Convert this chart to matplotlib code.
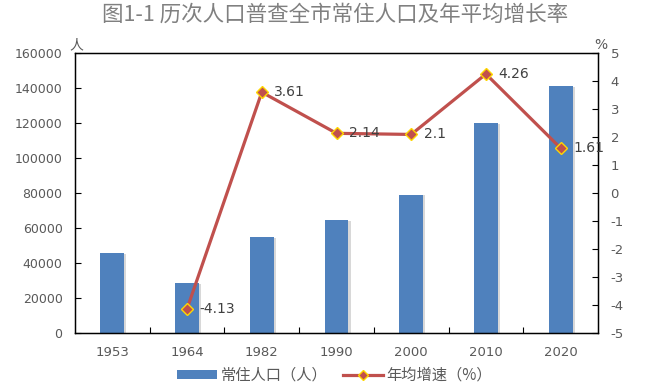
import matplotlib
matplotlib.use("Agg")
import matplotlib.pyplot as plt
import matplotlib.patheffects as pe
from matplotlib.lines import Line2D
from matplotlib.patches import Patch
import numpy as np

plt.rcParams['font.family'] = ['DejaVu Sans', 'Noto Sans CJK SC']
plt.rcParams['axes.unicode_minus'] = False

years = ['1953', '1964', '1982', '1990', '2000', '2010', '2020']
population = [45900, 28700, 54700, 64600, 79200, 120200, 141300]
growth = [np.nan, -4.13, 3.61, 2.14, 2.1, 4.26, 1.61]
growth_labels = ['', '-4.13', '3.61', '2.14', '2.1', '4.26', '1.61']

title = '图1-1 历次人口普查全市常住人口及年平均增长率'
bar_name = '常住人口（人）'
line_name = '年均增速（%）'

bar_color = '#4F81BD'
line_color = '#C0504D'
text_color = '#595959'
cjk = ['Noto Sans CJK SC', 'DejaVu Sans']

fig = plt.figure(figsize=(6.5, 3.9), dpi=100)
ax = fig.add_axes([0.1154, 0.146, 0.8046, 0.7173])
x = np.arange(len(years))

ax.bar(x, population, width=0.32, color=bar_color, zorder=2,
       path_effects=[pe.SimplePatchShadow(offset=(1.5, -0.5), shadow_rgbFace='#808080', alpha=0.3), pe.Normal()])
ax.set_xlim(-0.5, len(years) - 0.5)
ax.set_ylim(0, 160000)
ax.set_yticks(np.arange(0, 160001, 20000))
ax.set_yticklabels([str(v) for v in range(0, 160001, 20000)])
ax.set_xticks(x)
ax.set_xticklabels(years)
ax.set_xticks(np.arange(0.5, len(years) - 0.5, 1), minor=True)
ax.tick_params(axis='x', which='major', length=0, pad=9, labelsize=9.5, labelcolor=text_color)
ax.tick_params(axis='x', which='minor', direction='in', length=4, width=0.8)
ax.tick_params(axis='y', direction='in', length=4, width=0.8, labelsize=9, labelcolor=text_color, pad=9)
for s in ax.spines.values():
    s.set_linewidth(1.0)
    s.set_color('black')

ax2 = ax.twinx()
ax2.plot(x, growth, color=line_color, lw=2.3, marker='D', markersize=6.5,
         markerfacecolor=line_color, markeredgecolor='#FFD700', markeredgewidth=1.0, zorder=3)
ax2.set_ylim(-5, 5)
ax2.set_yticks(np.arange(-5, 6, 1))
ax2.tick_params(axis='y', direction='in', length=4, width=0.8, labelsize=9.5, labelcolor=text_color, pad=9)
for i, (g, lab) in enumerate(zip(growth, growth_labels)):
    if lab:
        ax2.annotate(lab, (i, g), xytext=(9, 0), textcoords='offset points',
                     ha='left', va='center', fontsize=10, color='#404040')

fig.text(0.516, 0.962, title, ha='center', va='center', fontsize=15.5, color='#808080',
         family=cjk)
fig.text(0.117, 0.885, '人', ha='center', va='center', fontsize=10, color=text_color, family=cjk)
fig.text(0.925, 0.885, '%', ha='center', va='center', fontsize=10, color=text_color)

handles = [Patch(facecolor=bar_color, edgecolor='none'),
           Line2D([0], [0], color=line_color, lw=2.3, marker='D', markersize=5.5,
                  markerfacecolor=line_color, markeredgecolor='#FFD700')]
fig.legend(handles, [bar_name, line_name], loc='center', bbox_to_anchor=(0.515, 0.038),
           ncol=2, frameon=False, handlelength=2.6, handleheight=0.5, columnspacing=1.0,
           handletextpad=0.25, prop={'family': cjk, 'size': 11},
           labelcolor=text_color)

fig.savefig('out.png', dpi=100)
